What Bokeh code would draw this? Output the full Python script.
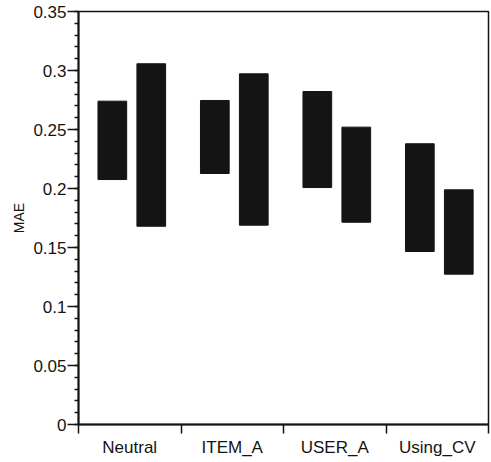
from bokeh.plotting import figure
from bokeh.models import FixedTicker, Range1d, ColumnDataSource
from bokeh.embed import file_html
from bokeh.resources import INLINE

categories = ["Neutral", "ITEM_A", "USER_A", "Using_CV"]
bar1_low = [0.2076, 0.2127, 0.2008, 0.1466]
bar1_high = [0.2740, 0.2746, 0.2822, 0.2379]
bar2_low = [0.1680, 0.1689, 0.1714, 0.1274]
bar2_high = [0.3057, 0.2972, 0.2520, 0.1989]
y_ticks = [0, 0.05, 0.1, 0.15, 0.2, 0.25, 0.3, 0.35]
y_tick_labels = ["0", "0.05", "0.1", "0.15", "0.2", "0.25", "0.3", "0.35"]

FONT = "Liberation Sans"
INK = "#141414"

p = figure(width=491, height=462, output_backend="svg", toolbar_location=None,
           x_range=Range1d(0, len(categories)), y_range=Range1d(0, 0.35),
           min_border_left=78, min_border_right=3, min_border_top=11, min_border_bottom=38)
p.background_fill_color = "white"
p.border_fill_color = "white"
p.outline_line_color = INK
p.outline_line_width = 1.5
p.xgrid.visible = False
p.ygrid.visible = False

idx = list(range(len(categories)))
src = ColumnDataSource(dict(
    x1=[i + 0.5 - 0.17 for i in idx], x2=[i + 0.5 + 0.21 for i in idx],
    l1=bar1_low, h1=bar1_high, l2=bar2_low, h2=bar2_high))
p.vbar(x="x1", width=0.28, bottom="l1", top="h1", source=src,
       fill_color=INK, line_color=INK, line_width=1)
p.vbar(x="x2", width=0.28, bottom="l2", top="h2", source=src,
       fill_color=INK, line_color=INK, line_width=1)

# x axis: labels at category centres, ticks at boundaries
xa = p.xaxis[0]
xa.ticker = FixedTicker(ticks=[i + 0.5 for i in idx],
                        minor_ticks=list(range(len(categories) + 1)))
xa.major_label_overrides = {i + 0.5: c for i, c in zip(idx, categories)}
xa.major_tick_line_color = None
xa.major_tick_out = 9
xa.major_tick_in = 0
xa.minor_tick_out = 9
xa.minor_tick_in = 0
xa.minor_tick_line_color = INK
xa.minor_tick_line_width = 1.5
xa.major_label_standoff = 4
xa.axis_line_color = INK
xa.axis_line_width = 2
xa.major_label_text_font = FONT
xa.major_label_text_font_size = "17px"
xa.major_label_text_color = INK

ya = p.yaxis[0]
minor = [round(i * 0.01, 2) for i in range(36)]
ya.ticker = FixedTicker(ticks=y_ticks, minor_ticks=minor)
ya.major_label_overrides = {t: s for t, s in zip(y_ticks, y_tick_labels)}
ya.major_tick_out = 11
ya.major_tick_in = 0
ya.minor_tick_out = 4
ya.minor_tick_in = 0
ya.major_tick_line_color = INK
ya.major_tick_line_width = 1.5
ya.minor_tick_line_color = INK
ya.minor_tick_line_width = 1.5
ya.major_label_standoff = 1
ya.axis_line_color = INK
ya.axis_line_width = 2
ya.major_label_text_font = FONT
ya.major_label_text_font_size = "17px"
ya.major_label_text_color = INK
ya.axis_label = "MAE"
ya.axis_label_text_font = FONT
ya.axis_label_text_font_size = "14px"
ya.axis_label_text_font_style = "normal"
ya.axis_label_text_color = INK
ya.axis_label_standoff = 3

open("out.html", "w").write(file_html(p, INLINE))
